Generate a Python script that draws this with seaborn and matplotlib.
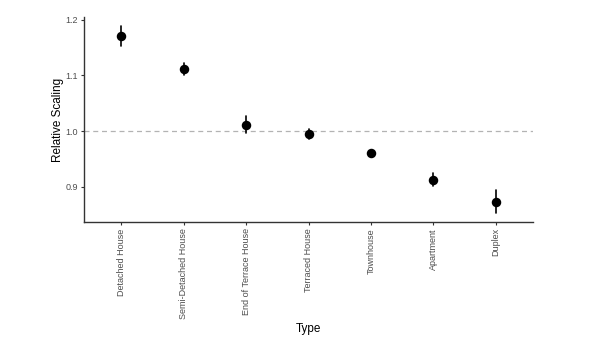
import matplotlib
matplotlib.use("Agg")
import matplotlib.pyplot as plt
import seaborn as sns
import pandas as pd

types = ["Detached House", "Semi-Detached House", "End of Terrace House",
         "Terraced House", "Townhouse", "Apartment", "Duplex"]
estimate = [1.171, 1.111, 1.012, 0.995, 0.960, 0.913, 0.873]
lower = [1.153, 1.100, 0.996, 0.986, 0.957, 0.902, 0.853]
upper = [1.189, 1.123, 1.027, 1.004, 0.963, 0.925, 0.894]

sns.set_theme(style="ticks")
plt.rcParams["font.family"] = ["Liberation Sans", "DejaVu Sans"]

# long table: each type has its lower bound, estimate and upper bound;
# the median is the estimate and the full percentile range is the interval
rows = []
for t, lo, est, hi in zip(types, lower, estimate, upper):
    for v in (lo, est, hi):
        rows.append({"Type": t, "Relative Scaling": v})
df = pd.DataFrame(rows)

fig = plt.figure(figsize=(6.14, 3.45), dpi=100)
ax = fig.add_axes([84 / 614, 1 - 222 / 345, (533 - 84) / 614, (222 - 17) / 345])

ax.axhline(1.0, color="#b3b3b3", linestyle=(0, (4, 3)), linewidth=0.9, zorder=0)

sns.pointplot(data=df, x="Type", y="Relative Scaling", order=types,
              estimator="median", errorbar=("pi", 100),
              linestyle="none", color="black", markersize=4.8,
              err_kws={"linewidth": 1.2}, ax=ax)

ax.set_xlim(-0.6, 6.6)
ax.set_ylim(0.837, 1.205)
ax.set_yticks([0.9, 1.0, 1.1, 1.2])
ax.set_yticklabels(["0.9", "1.0", "1.1", "1.2"])

ax.tick_params(axis="both", colors="#333333", labelcolor="#4d4d4d",
               labelsize=6.5, length=2.5, width=0.8, pad=2)
plt.setp(ax.get_xticklabels(), rotation=90)

for s in ("top", "right"):
    ax.spines[s].set_visible(False)
for s in ("left", "bottom"):
    ax.spines[s].set_color("#333333")
    ax.spines[s].set_linewidth(1.0)

ax.set_xlabel("Type", fontsize=8.5, color="black", labelpad=3)
ax.set_ylabel("Relative Scaling", fontsize=8.5, color="black", labelpad=1)

fig.savefig("out.png", dpi=100)
